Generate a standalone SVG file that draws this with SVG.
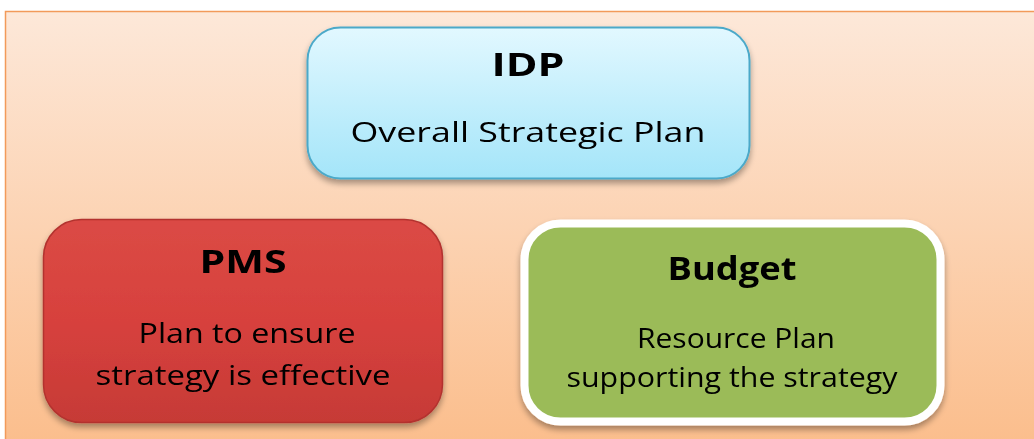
<svg xmlns="http://www.w3.org/2000/svg" width="1034" height="439" viewBox="0 0 1034 439">
  <defs>
    <linearGradient id="bg" x1="0" y1="0" x2="0" y2="1">
      <stop offset="0" stop-color="#fde8d9"/>
      <stop offset="1" stop-color="#fbbd8b"/>
    </linearGradient>
    <linearGradient id="blue" x1="0" y1="0" x2="0" y2="1">
      <stop offset="0" stop-color="#e2f8ff"/>
      <stop offset="1" stop-color="#a4e5f9"/>
    </linearGradient>
    <linearGradient id="red" x1="0" y1="0" x2="0" y2="1">
      <stop offset="0" stop-color="#db4a45"/>
      <stop offset="0.5" stop-color="#d7413d"/>
      <stop offset="1" stop-color="#c63a36"/>
    </linearGradient>
    <filter id="shadow" x="-10%" y="-10%" width="120%" height="130%">
      <feGaussianBlur in="SourceAlpha" stdDeviation="3"/>
      <feOffset dx="0" dy="4" result="b"/>
      <feComponentTransfer><feFuncA type="linear" slope="0.35"/></feComponentTransfer>
      <feMerge><feMergeNode/><feMergeNode in="SourceGraphic"/></feMerge>
    </filter>
    <style>
      .t { font-family: "Open Sans", "Noto Sans", "Liberation Sans", sans-serif; fill: #000; text-anchor: middle; }
      .h { font-weight: bold; font-size: 32px; }
      .b { font-size: 27px; }
    </style>
  </defs>
  <rect width="1034" height="439" fill="#ffffff"/>
  <rect x="5.5" y="11.5" width="1040" height="440" fill="url(#bg)" stroke="#f29a5a" stroke-width="1.5"/>

  <g id="idp" filter="url(#shadow)">
    <rect x="307.5" y="27.5" width="442" height="151" rx="33" ry="33" fill="url(#blue)" stroke="#4ba9c9" stroke-width="2"/>
    <text class="t h" x="528" y="76" textLength="73" lengthAdjust="spacingAndGlyphs">IDP</text>
    <text class="t b" x="528" y="142" textLength="355" lengthAdjust="spacingAndGlyphs">Overall Strategic Plan</text>
  </g>

  <g id="pms" filter="url(#shadow)">
    <rect x="43.5" y="219.5" width="399" height="203" rx="38" ry="38" fill="url(#red)" stroke="#b3322f" stroke-width="1.5"/>
    <text class="t h" x="243" y="273" textLength="87" lengthAdjust="spacingAndGlyphs">PMS</text>
    <text class="t b" x="247" y="343" textLength="217" lengthAdjust="spacingAndGlyphs">Plan to ensure</text>
    <text class="t b" x="243" y="385" textLength="295" lengthAdjust="spacingAndGlyphs">strategy is effective</text>
  </g>

  <g id="budget" filter="url(#shadow)">
    <rect x="524.5" y="223.5" width="416" height="198" rx="36" ry="36" fill="#9bbb59" stroke="#ffffff" stroke-width="8"/>
    <text class="t h" x="732" y="280" textLength="129" lengthAdjust="spacingAndGlyphs">Budget</text>
    <text class="t b" x="736" y="348" textLength="198" lengthAdjust="spacingAndGlyphs">Resource Plan</text>
    <text class="t b" x="732" y="387" textLength="331" lengthAdjust="spacingAndGlyphs">supporting the strategy</text>
  </g>

  <g id="connectors"></g>
</svg>
